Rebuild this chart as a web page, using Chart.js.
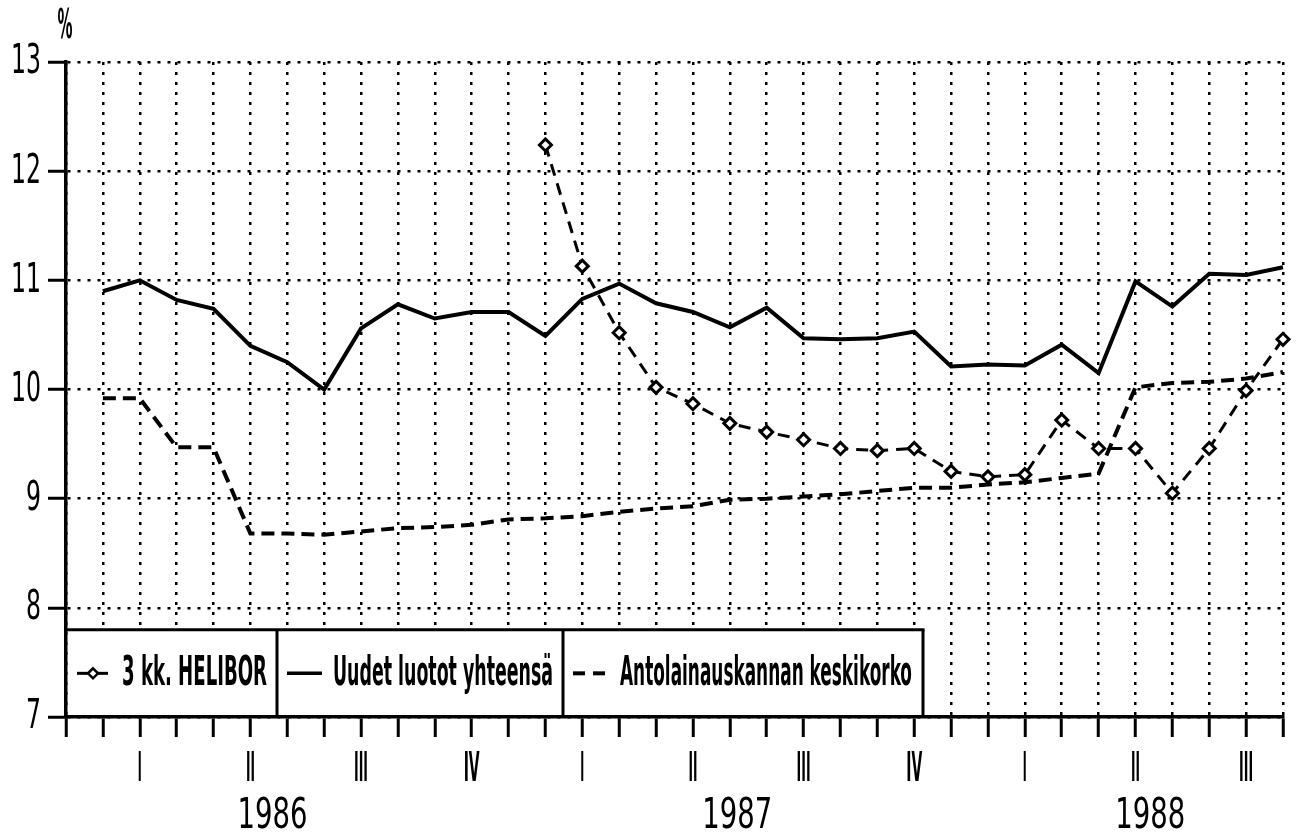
<!DOCTYPE html>
<html>
<head>
<meta charset="utf-8">
<script src="https://cdn.jsdelivr.net/npm/chart.js@4"></script>
<style>
  body { margin: 0; background: #fff; }
  canvas { display: block; }
</style>
</head>
<body>
<canvas id="chart" width="1298" height="837"></canvas>
<script>
// months on the x axis, Dec 1985 is the empty first slot
const months = [
  '1985-12',
  '1986-01', '1986-02', '1986-03', '1986-04', '1986-05', '1986-06',
  '1986-07', '1986-08', '1986-09', '1986-10', '1986-11', '1986-12',
  '1987-01', '1987-02', '1987-03', '1987-04', '1987-05', '1987-06',
  '1987-07', '1987-08', '1987-09', '1987-10', '1987-11', '1987-12',
  '1988-01', '1988-02', '1988-03', '1988-04', '1988-05', '1988-06',
  '1988-07', '1988-08', '1988-09'
];

const helibor = [
  null,
  null, null, null, null, null, null, null, null, null, null, null, null,
  12.24, 11.13, 10.52, 10.02, 9.87, 9.69, 9.61, 9.54, 9.46, 9.44, 9.46, 9.25,
  9.20, 9.22, 9.72, 9.46, 9.46, 9.05, 9.46, 9.99, 10.46
];

const uudetLuotot = [
  null,
  10.90, 11.00, 10.82, 10.74, 10.40, 10.25, 10.00, 10.56, 10.78, 10.65, 10.71, 10.71,
  10.49, 10.83, 10.97, 10.79, 10.71, 10.57, 10.75, 10.47, 10.46, 10.47, 10.53, 10.21,
  10.23, 10.22, 10.41, 10.15, 10.99, 10.76, 11.06, 11.05, 11.12
];

const antolainaus = [
  null,
  9.92, 9.92, 9.47, 9.47, 8.68, 8.68, 8.67, 8.70, 8.73, 8.74, 8.76, 8.81,
  8.82, 8.84, 8.88, 8.91, 8.93, 8.99, 9.00, 9.02, 9.04, 9.07, 9.10, 9.10,
  9.13, 9.15, 9.19, 9.23, 10.02, 10.06, 10.07, 10.10, 10.16
];

const yTicks = ['7', '8', '9', '10', '11', '12', '13'];
const quarterLabels = ['I', 'II', 'III', 'IV', 'I', 'II', 'III', 'IV', 'I', 'II', 'III'];
const quarterMonths = ['1986-02', '1986-05', '1986-08', '1986-11', '1987-02', '1987-05',
  '1987-08', '1987-11', '1988-02', '1988-05', '1988-08'];
const years = ['1986', '1987', '1988'];
const seriesNames = ['3 kk. HELIBOR', 'Uudet luotot yhteensä', 'Antolainauskannan keskikorko'];

// where the year captions sit, in month slots (layout only)
const yearSlots = [5.6, 18.2, 29.4];

const FONT = '"Liberation Sans Narrow", "DejaVu Sans Condensed", "Liberation Sans", sans-serif';

function drawText(ctx, s, x, y, size, align, width, weight) {
  ctx.font = (weight || 'normal') + ' ' + size + 'px ' + FONT;
  const w = ctx.measureText(s).width;
  const k = width ? width / w : 1;
  ctx.save();
  ctx.translate(x, y);
  ctx.scale(k, 1);
  ctx.textAlign = align;
  ctx.textBaseline = 'middle';
  ctx.fillStyle = '#000';
  ctx.fillText(s, 0, 0);
  ctx.restore();
}

function line(ctx, x1, y1, x2, y2, w, dash) {
  ctx.save();
  ctx.lineWidth = w;
  ctx.strokeStyle = '#000';
  ctx.setLineDash(dash || []);
  ctx.beginPath();
  ctx.moveTo(x1, y1);
  ctx.lineTo(x2, y2);
  ctx.stroke();
  ctx.restore();
}

const textPlugin = {
  id: 'plotterText',
  afterDraw(chart) {
    const ctx = chart.ctx;
    const xs = chart.scales.x;
    const ys = chart.scales.y;
    const area = chart.chartArea;

    // y labels
    yTicks.forEach(t => {
      drawText(ctx, t, 41, ys.getPixelForValue(Number(t)) + 1, 40, 'right', 15 * t.length);
    });
    drawText(ctx, '%', 65, 28, 40, 'center', 15, 'bold');

    // quarters and years
    quarterLabels.forEach((q, i) => {
      const x = xs.getPixelForValue(months.indexOf(quarterMonths[i]));
      const w = { I: 4, II: 9, III: 14, IV: 16 }[q];
      drawText(ctx, q, x, 771, 40, 'center', w, 'bold');
    });
    years.forEach((y, i) => {
      drawText(ctx, y, xs.getPixelForDecimal(yearSlots[i] / (months.length - 1)), 817, 42, 'center', 70);
    });

    // legend box
    const top = ys.getPixelForValue(7.8);
    const left = area.left;
    const bottom = area.bottom;
    const div1 = 277, div2 = 563, right = 923;
    ctx.save();
    ctx.fillStyle = '#fff';
    ctx.fillRect(left + 2, top, right - left - 2, bottom - top - 2);
    ctx.restore();
    line(ctx, left, top, right + 1.5, top, 3);
    line(ctx, div1, top, div1, bottom, 3);
    line(ctx, div2, top, div2, bottom, 3);
    line(ctx, right, top, right, bottom, 3);

    const ly = (top + bottom) / 2;
    // sample 1: line with diamond
    line(ctx, 77, ly, 108, ly, 3);
    ctx.save();
    ctx.fillStyle = '#fff';
    ctx.strokeStyle = '#000';
    ctx.lineWidth = 2.5;
    ctx.beginPath();
    ctx.moveTo(93, ly - 5); ctx.lineTo(98, ly); ctx.lineTo(93, ly + 5); ctx.lineTo(88, ly);
    ctx.closePath();
    ctx.fill();
    ctx.stroke();
    ctx.restore();
    drawText(ctx, seriesNames[0], 122, ly + 1, 40, 'left', 145, 'bold');

    line(ctx, 287, ly, 322, ly, 3.5);
    drawText(ctx, seriesNames[1], 333, ly + 1, 40, 'left', 220, 'bold');

    line(ctx, 573, ly, 585, ly, 4);
    line(ctx, 593, ly, 605, ly, 4);
    drawText(ctx, seriesNames[2], 620, ly + 1, 40, 'left', 292, 'bold');
  }
};

const ctx = document.getElementById('chart').getContext('2d');

new Chart(ctx, {
  type: 'line',
  data: {
    labels: months,
    datasets: [
      {
        label: seriesNames[0],
        data: helibor,
        borderColor: '#000',
        borderWidth: 3,
        borderDash: [12, 8],
        pointStyle: 'rectRot',
        pointRadius: 6,
        pointBorderWidth: 3,
        pointBorderColor: '#000',
        pointBackgroundColor: '#fff',
        tension: 0,
        clip: false
      },
      {
        label: seriesNames[1],
        data: uudetLuotot,
        borderColor: '#000',
        borderWidth: 4,
        pointRadius: 0,
        tension: 0,
        clip: false
      },
      {
        label: seriesNames[2],
        data: antolainaus,
        borderColor: '#000',
        borderWidth: 4,
        borderDash: [13, 7],
        pointRadius: 0,
        tension: 0,
        clip: false
      }
    ]
  },
  options: {
    responsive: false,
    devicePixelRatio: 1,
    animation: false,
    layout: { padding: { left: 48, right: 15, top: 62, bottom: 100 } },
    plugins: {
      legend: { display: false },
      tooltip: { enabled: false }
    },
    scales: {
      x: {
        type: 'category',
        offset: false,
        ticks: { display: false, autoSkip: false },
        grid: {
          color: '#000',
          lineWidth: 2.5,
          tickLength: 20,
          tickWidth: 3,
          tickColor: '#000',
          tickBorderDash: [],
          offset: false
        },
        border: { display: true, color: '#000', width: 3.5, dash: [3, 7] }
      },
      y: {
        min: 7,
        max: 13,
        ticks: { display: false, stepSize: 1 },
        grid: {
          color: '#000',
          lineWidth: 2.5,
          tickLength: 18,
          tickWidth: 3,
          tickColor: '#000',
          tickBorderDash: []
        },
        border: { display: true, color: '#000', width: 3.5, dash: [3, 7] }
      }
    }
  },
  plugins: [textPlugin]
});
</script>
</body>
</html>
